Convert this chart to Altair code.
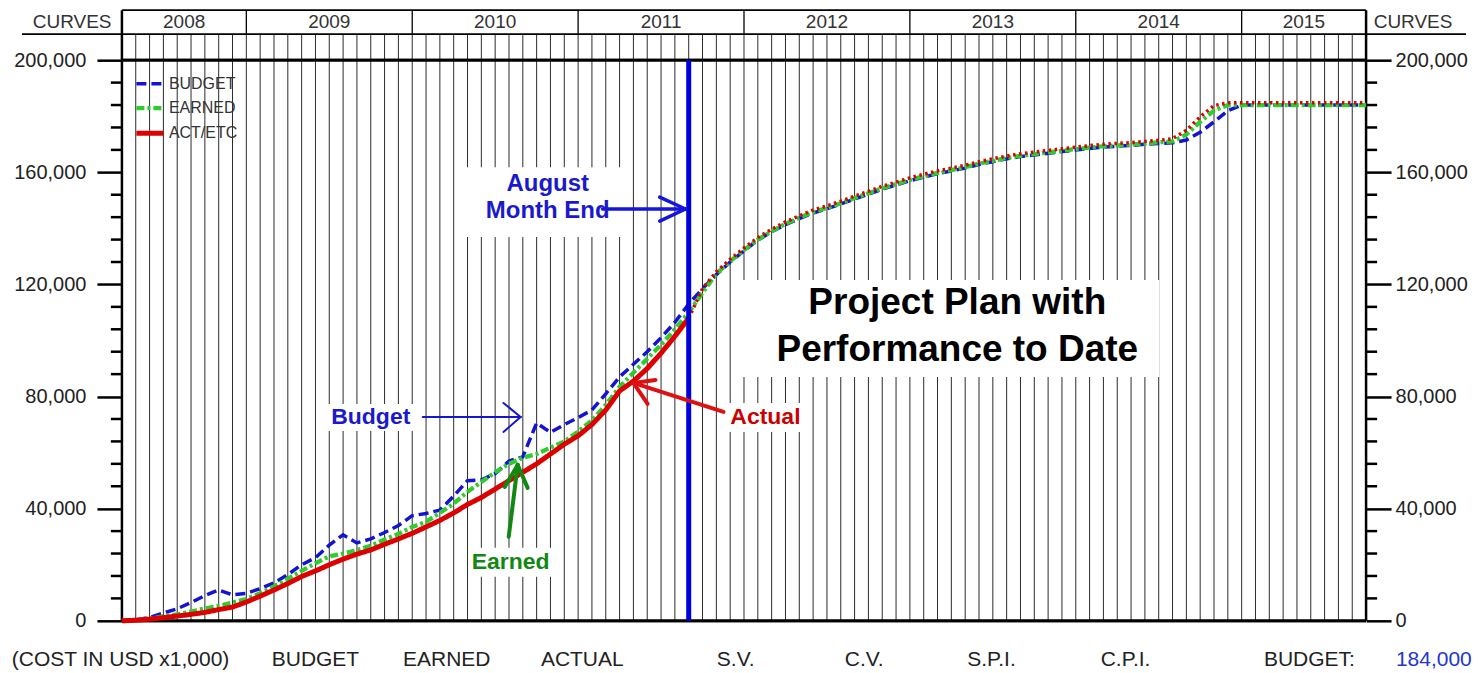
import altair as alt
import pandas as pd

# ---------------- data ----------------
months = list(range(91))  # month index, 0 = start of Apr 2008, 90 = end of Sep 2015
budget = [0, 300, 1200, 2800, 4300, 6500, 9000, 11000, 9300, 9800,
          11500, 13500, 16500, 20000, 22500, 27000, 30700, 27800, 29200, 31500,
          34000, 37500, 38300, 39500, 44500, 50000, 50300, 52500, 57000, 58500,
          70600, 67200, 70000, 72500, 75200, 81000, 87000, 91500, 96000, 101000,
          106500, 113000, 118500, 123500, 128000, 132000, 135800, 138800, 141300, 143500,
          145500, 147000, 148700, 150500, 152200, 154000, 155500, 157000, 158300, 159500,
          160500, 161500, 162800, 163800, 164800, 165600, 166200, 166800, 167400, 168000,
          168500, 169000, 169300, 169600, 170000, 170300, 170500, 171500, 174300, 178000,
          182000, 184000, 184000, 184000, 184000, 184000, 184000, 184000, 184000, 184000,
          184000]
earned = [0, 300, 800, 1600, 2300, 3300, 4400, 5300, 6500, 7800,
          9800, 12300, 15000, 17800, 20500, 23000, 24000, 25200, 26800, 29000,
          31000, 33500, 35300, 38500, 41800, 46000, 49500, 53000, 56000, 58200,
          59500, 61800, 64000, 67500, 71500, 77000, 83500, 88500, 93500, 98500,
          104000, 110000, 117000, 123800, 128300, 132300, 136000, 139000, 141600, 143800,
          145800, 147300, 149000, 150800, 152500, 154300, 155800, 157300, 158600, 159800,
          160800, 161800, 163100, 164100, 165100, 165900, 166500, 167100, 167700, 168300,
          168800, 169300, 169600, 169900, 170300, 170700, 171000, 173500, 178000, 182000,
          184000, 184000, 184000, 184000, 184000, 184000, 184000, 184000, 184000, 184000,
          184000]
act_etc = [0, 200, 600, 1100, 1700, 2300, 3000, 4000, 4900, 6700,
           8800, 11000, 13300, 15800, 17800, 20000, 22000, 23800, 25300, 27300,
           29200, 31200, 33500, 35800, 38500, 41500, 44000, 47000, 50000, 53000,
           56000, 59500, 63000, 66000, 70000, 75200, 82000, 85500, 90000, 95500,
           101500, 108000, 118500, 124500, 129000, 133000, 136700, 139700, 142300, 144500,
           146500, 148000, 149700, 151500, 153200, 155000, 156500, 158000, 159300, 160500,
           161500, 162500, 163800, 164800, 165800, 166600, 167200, 167800, 168400, 169000,
           169500, 170000, 170300, 170600, 171000, 171400, 172000, 175000, 179800, 183800,
           184800, 184800, 184800, 184800, 184800, 184800, 184800, 184800, 184800, 184800,
           184800]
assert len(budget) == len(earned) == len(act_etc) == len(months)

data_date = 41  # end of August 2011
series_names = ["BUDGET", "EARNED", "ACT/ETC"]
series_colors = ["#1414d0", "#2ecc2e", "#dd0000"]
series_dash = [[10, 5], [8, 3, 3, 3], [1, 0]]
series_width = [3.5, 5, 3.5]

years = ["2008", "2009", "2010", "2011", "2012", "2013", "2014", "2015"]
year_start = [0, 9, 21, 33, 45, 57, 69, 81, 90]
y_major = [0, 40000, 80000, 120000, 160000, 200000]
y_minor = [v for v in range(8000, 200000, 8000) if v % 40000]
footer_labels = ["(COST IN USD x1,000)", "BUDGET", "EARNED", "ACTUAL", "S.V.",
                 "C.V.", "S.P.I.", "C.P.I.", "BUDGET:"]
footer_pos = [-0.1, 14.0, 23.5, 33.3, 44.4, 53.7, 62.9, 72.6, 85.9]
budget_total = "184,000"

# ---------------- geometry ----------------
W, H = 1245, 587
YTOP = 200000 * H / 561          # top of the plotting rectangle
UNIT = 200000 / 561              # value units per pixel
HEAD = YTOP + 24 * UNIT          # top of the year header
NARROW = "Liberation Sans Narrow, Arial Narrow, Liberation Sans, Arial, sans-serif"
SANS = "Liberation Sans, Arial, sans-serif"

xs = alt.Scale(domain=[0, 90], nice=False, zero=False)
ys = alt.Scale(domain=[0, YTOP], nice=False, zero=False)


def X(f):
    return alt.X(f, type="quantitative", scale=xs, axis=None)


def Y(f, axis=None):
    return alt.Y(f, type="quantitative", scale=ys, axis=axis)


# ---------------- decorations ----------------
grid = pd.DataFrame({"k": months[1:-1], "v1": 0, "v2": YTOP})
grid_layer = alt.Chart(grid).mark_rule(color="#2b2b2b", strokeWidth=1).encode(
    x=X("k"), y=Y("v1"), y2="v2")

frame = pd.DataFrame({"k": [0, 90], "v1": [0, 0], "v2": [HEAD, HEAD]})
frame_layer = alt.Chart(frame).mark_rule(color="black", strokeWidth=2.5).encode(
    x=X("k"), y=Y("v1"), y2="v2")
sep = pd.DataFrame({"k": year_start[1:-1]})
sep["v1"], sep["v2"] = YTOP, HEAD
sep_layer = alt.Chart(sep).mark_rule(color="black", strokeWidth=1.3).encode(
    x=X("k"), y=Y("v1"), y2="v2")

head = pd.DataFrame({"k1": [0, -7.23], "k2": [90, 97.23], "v": [HEAD, YTOP]})
head_layer = alt.Chart(head).mark_rule(color="black", strokeWidth=1.8).encode(
    x=X("k1"), x2="k2", y=Y("v"))

minor = pd.DataFrame({
    "v": y_minor * 2,
    "k1": [-0.8] * len(y_minor) + [90] * len(y_minor),
    "k2": [0] * len(y_minor) + [90.8] * len(y_minor),
})
minor_layer = alt.Chart(minor).mark_rule(color="black", strokeWidth=2.5).encode(
    x=X("k1"), x2="k2", y=Y("v"))

axis_common = dict(values=y_major, format=",d", tickSize=25, tickWidth=2.5,
                   tickColor="black", domain=False, grid=False, labelFont=SANS,
                   labelFontSize=20, labelColor="#222", title=None)
base = pd.DataFrame({"k1": [0, 0], "k2": [90, 90], "v": [0, 200000]})
hl_left = alt.Chart(base).mark_rule(color="black", strokeWidth=2.8).encode(
    x=X("k1"), x2="k2",
    y=Y("v", axis=alt.Axis(orient="left", labelPadding=11, **axis_common)))
hl_right = alt.Chart(base).mark_rule(color="black", strokeWidth=2.8).encode(
    x=X("k1"), x2="k2",
    y=Y("v", axis=alt.Axis(orient="right", labelPadding=4, **axis_common)))

# header / footer text
yr = pd.DataFrame({
    "k": [(a + b) / 2 for a, b in zip(year_start[:-1], year_start[1:])] + [-3.6, 93.4],
    "t": years + ["CURVES", "CURVES"],
})
yr["v"] = HEAD - 12 * UNIT
yr_layer = alt.Chart(yr).mark_text(font=NARROW, fontSize=19, color="#333",
                                   baseline="middle").encode(x=X("k"), y=Y("v"), text="t:N")

ft = pd.DataFrame({"k": footer_pos, "t": footer_labels})
ft["v"] = -39 * UNIT
ft_layer = alt.Chart(ft).mark_text(font=NARROW, fontSize=21, color="#222",
                                   baseline="middle").encode(x=X("k"), y=Y("v"), text="t:N")
ft2 = pd.DataFrame({"k": [94.9], "t": [budget_total], "v": [-39 * UNIT]})
ft2_layer = alt.Chart(ft2).mark_text(font=NARROW, fontSize=21, color="#2236d0",
                                     baseline="middle").encode(x=X("k"), y=Y("v"), text="t:N")

# white boxes behind annotations
boxes = pd.DataFrame({
    "k1": [24.94, 14.9, 43.6, 25.16, 44.31],
    "k2": [36.14, 21.25, 49.6, 31.16, 75.04],
    "v1": [136900, 67740, 67380, 15690, 86990],
    "v2": [161850, 77360, 77720, 26025, 121570],
})
box_layer = alt.Chart(boxes).mark_rect(color="white").encode(
    x=X("k1"), x2="k2", y=Y("v1"), y2="v2")

# ---------------- curves ----------------
rows = []
for name, vals in zip(series_names, [budget, earned, act_etc]):
    for k, v in zip(months, vals):
        if name == "ACT/ETC" and k > data_date:
            continue
        rows.append({"k": k, "v": v, "series": name})
curves = pd.DataFrame(rows)
etc = pd.DataFrame({"k": months[data_date:], "v": act_etc[data_date:]})

legend = alt.Legend(title=None, orient="none", legendX=12, legendY=34,
                    symbolType="stroke", symbolSize=729, symbolStrokeWidth=4,
                    labelFont=NARROW, labelFontSize=16, labelColor="#333",
                    labelOffset=3, rowPadding=-3)
color_scale = alt.Scale(domain=series_names, range=series_colors)
dash_scale = alt.Scale(domain=series_names, range=series_dash)
width_scale = alt.Scale(domain=series_names, range=series_width)

curve_layers = []
for i, n in enumerate(series_names):
    lg = legend if i == 0 else None
    curve_layers.append(
        alt.Chart(curves).transform_filter(alt.datum.series == n).mark_line().encode(
            x=X("k"), y=Y("v"),
            color=alt.Color("series:N", scale=color_scale, legend=lg),
            strokeDash=alt.StrokeDash("series:N", scale=dash_scale, legend=lg),
            strokeWidth=alt.StrokeWidth("series:N", scale=width_scale, legend=None)))
etc_layer = alt.Chart(etc).mark_line(color="#dd0000", strokeDash=[2.5, 3.5],
                                     strokeWidth=3.5).encode(x=X("k"), y=Y("v"))

month_end = pd.DataFrame({"k": [data_date], "v1": [0], "v2": [200000]})
me_layer = alt.Chart(month_end).mark_rule(color="#0000dd", strokeWidth=5).encode(
    x=X("k"), y=Y("v1"), y2="v2")

# ---------------- annotations ----------------
arrows = pd.DataFrame({
    "k1": [34.77, 38.9, 38.9, 21.76, 27.6, 27.6, 43.52, 38.6, 38.03, 27.98, 27.69, 29.35],
    "v1": [146900, 151150, 142600, 72730, 77720, 67380, 74510, 85920, 77360, 29950, 47770, 47420],
    "k2": [40.77, 40.77, 40.77, 28.84, 28.84, 28.84, 37.0, 37.0, 37.0, 28.63, 28.63, 28.63],
    "v2": [146900, 146900, 146900, 72730, 72730, 72730, 84850, 84850, 84850, 55610, 55610, 55610],
    "g": ["month"] * 3 + ["budget"] * 3 + ["actual"] * 3 + ["earned"] * 3,
})
arrow_style = {"month": ("#1515dd", 3.5), "budget": ("#1515cc", 2),
               "actual": ("#dd1111", 4), "earned": ("#118811", 4)}
arrow_layers = [
    alt.Chart(arrows).transform_filter(alt.datum.g == g).mark_rule(
        color=c, strokeWidth=w, strokeCap="round").encode(
        x=X("k1"), x2="k2", y=Y("v1"), y2="v2")
    for g, (c, w) in arrow_style.items()
]

notes = pd.DataFrame({
    "k": [30.8, 30.8, 18.0, 46.55, 28.12, 60.43, 60.43],
    "v": [155800, 146170, 72730, 72730, 21030, 113370, 96610],
    "t": ["August", "Month End", "Budget", "Actual", "Earned",
          "Project Plan with", "Performance to Date"],
    "g": ["blue", "blue", "blue2", "red", "green", "black", "black"],
})
note_style = {"blue": ("#1a1acc", 24), "blue2": ("#1a1acc", 23), "red": ("#cc0000", 23),
              "green": ("#118811", 23), "black": ("black", 37)}
note_layers = [
    alt.Chart(notes).transform_filter(alt.datum.g == g).mark_text(
        font=SANS, fontWeight="bold", baseline="middle", color=c, fontSize=s).encode(
        x=X("k"), y=Y("v"), text="t:N")
    for g, (c, s) in note_style.items()
]

chart = alt.layer(
    grid_layer, frame_layer, sep_layer, head_layer, minor_layer, hl_left, hl_right,
    box_layer, *curve_layers, etc_layer, me_layer, *arrow_layers, *note_layers,
    yr_layer, ft_layer, ft2_layer,
).resolve_axis(y="independent").properties(
    width=W, height=H,
    padding={"left": 114, "top": 26, "right": 108, "bottom": 52},
    autosize=alt.AutoSizeParams(type="none"),
    background="white",
).configure_view(stroke=None)

chart.save("out.html", embed_options={"renderer": "svg", "actions": False})
